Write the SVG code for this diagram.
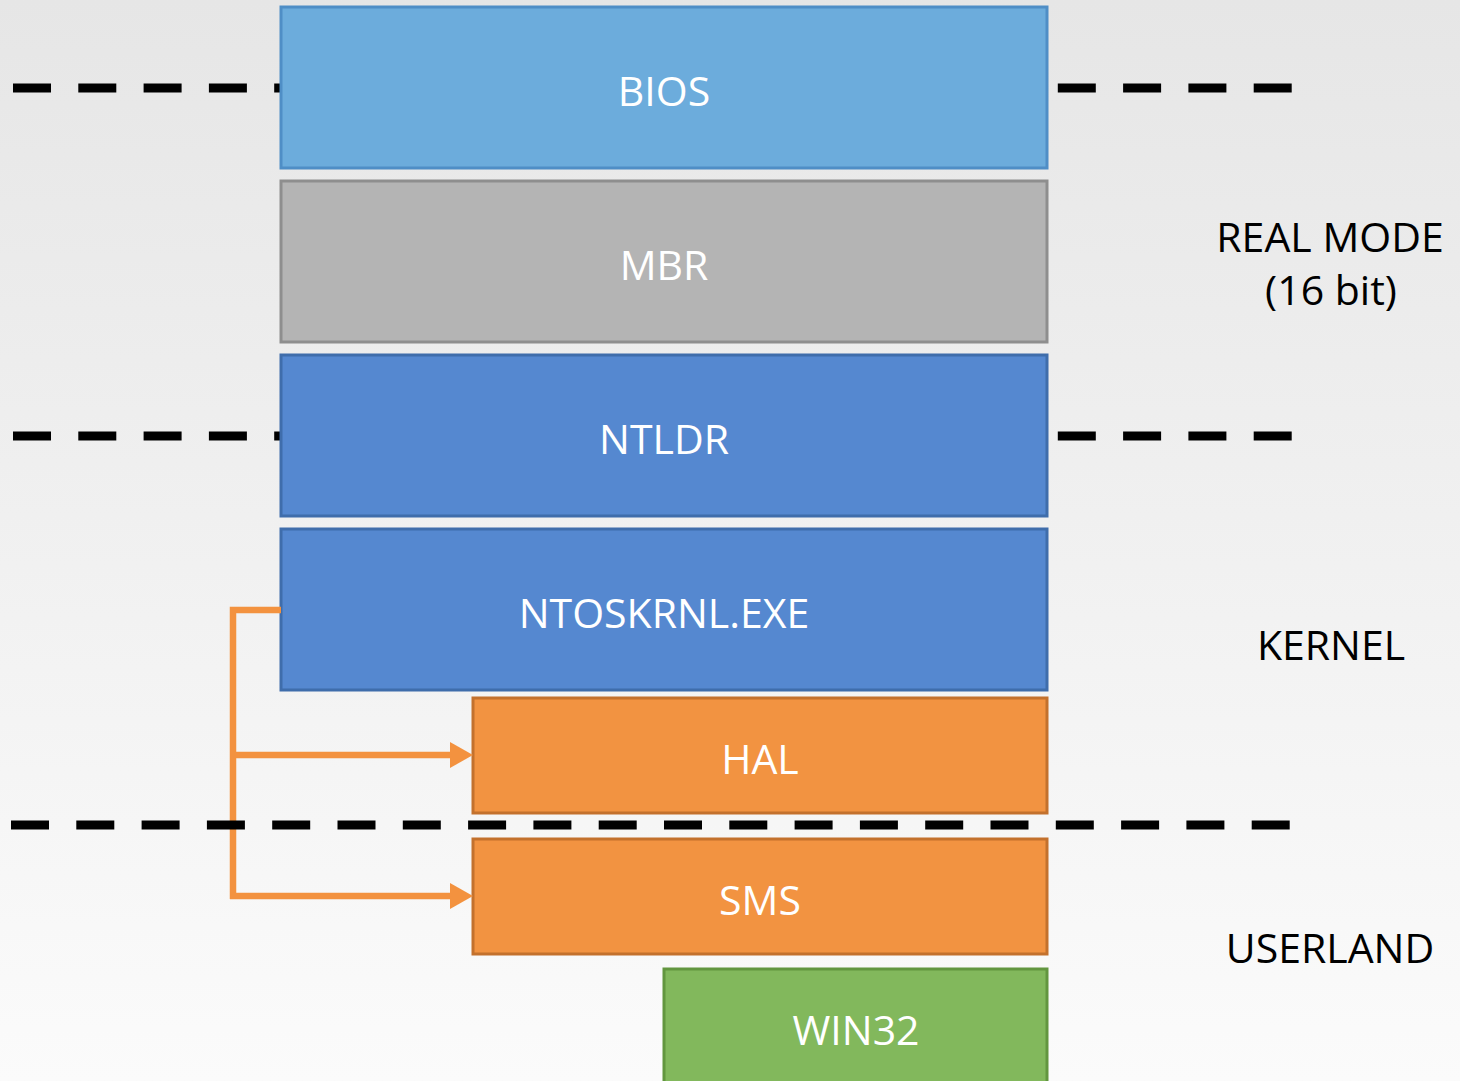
<svg xmlns="http://www.w3.org/2000/svg" width="1460" height="1081" viewBox="0 0 1460 1081">
  <defs>
    <linearGradient id="bg" x1="0" y1="0" x2="0" y2="1">
      <stop offset="0" stop-color="#e6e6e6"/>
      <stop offset="1" stop-color="#fbfbfb"/>
    </linearGradient>
    <marker id="arrow" markerUnits="userSpaceOnUse" markerWidth="24" markerHeight="26" viewBox="0 0 24 26" refX="24" refY="13" orient="auto" overflow="visible">
      <path d="M0,0 L24,13 L0,26 Z" fill="#f3923f"/>
    </marker>
    <style>
      .box { stroke-width: 3; }
      .blue-light { fill: #6cacdc; stroke: #4f8ec6; }
      .grey { fill: #b4b4b4; stroke: #8e8e8e; }
      .blue { fill: #5588d0; stroke: #3f6dab; }
      .orange { fill: #f29341; stroke: #c3712d; }
      .green { fill: #82b85c; stroke: #62963f; }
      .label { font-family: "Open Sans", "Noto Sans", sans-serif; font-size: 41px; fill: #ffffff; text-anchor: middle; }
      .side { font-family: "Open Sans", "Noto Sans", sans-serif; font-size: 41px; fill: #000000; text-anchor: middle; }
      .dash { stroke: #000000; stroke-width: 9; stroke-dasharray: 38 27.3; fill: none; }
      .link { stroke: #f3923f; stroke-width: 6.5; fill: none; }
    </style>
  </defs>

  <rect x="0" y="0" width="1460" height="1081" fill="url(#bg)"/>

  <!-- mode boundaries -->
  <g id="boundaries">
    <line class="dash" x1="13" y1="88" x2="1293" y2="88"/>
    <line class="dash" x1="13" y1="436" x2="1293" y2="436"/>
  </g>

  <!-- boot chain stack -->
  <g id="bios">
    <rect class="box blue-light" x="281" y="7" width="766" height="161"/>
    <text class="label" x="664" y="106">BIOS</text>
  </g>
  <g id="mbr">
    <rect class="box grey" x="281" y="181" width="766" height="161"/>
    <text class="label" x="664" y="280">MBR</text>
  </g>
  <g id="ntldr">
    <rect class="box blue" x="281" y="355" width="766" height="161"/>
    <text class="label" x="664" y="454">NTLDR</text>
  </g>
  <g id="ntoskrnl">
    <rect class="box blue" x="281" y="529" width="766" height="161"/>
    <text class="label" x="664" y="628">NTOSKRNL.EXE</text>
  </g>
  <g id="hal">
    <rect class="box orange" x="473" y="698" width="574" height="115"/>
    <text class="label" x="760" y="774">HAL</text>
  </g>
  <g id="sms">
    <rect class="box orange" x="473" y="839" width="574" height="115"/>
    <text class="label" x="760" y="915">SMS</text>
  </g>
  <g id="win32">
    <rect class="box green" x="664" y="969" width="383" height="120"/>
    <text class="label" x="856" y="1045">WIN32</text>
  </g>

  <!-- kernel loads HAL and SMS -->
  <g id="connectors">
    <path class="link" d="M281,610 H233 V899"/>
    <line class="link" x1="233" y1="755" x2="452" y2="755"/>
    <line class="link" x1="230" y1="896" x2="452" y2="896"/>
    <path d="M450,742 L473,755 L450,768 Z" fill="#f3923f"/>
    <path d="M450,883 L473,896 L450,909 Z" fill="#f3923f"/>
  </g>

  <!-- kernel / userland boundary -->
  <g id="boundary-user">
    <line class="dash" x1="11" y1="825" x2="1291" y2="825"/>
  </g>

  <!-- mode labels -->
  <g id="mode-labels">
    <text class="side" x="1330" y="252">REAL MODE</text>
    <text class="side" x="1331" y="305">(16 bit)</text>
    <text class="side" x="1331" y="660">KERNEL</text>
    <text class="side" x="1330" y="963">USERLAND</text>
  </g>
</svg>
